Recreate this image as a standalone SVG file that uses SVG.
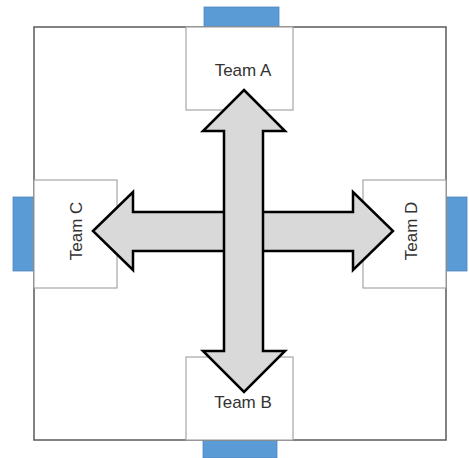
<svg xmlns="http://www.w3.org/2000/svg" width="469" height="458" viewBox="0 0 469 458">
<style>
.bg{fill:#ffffff}
.outer{fill:none;stroke:#5a5a5a;stroke-width:1.5}
.box{fill:#ffffff;stroke:#a6a6a6;stroke-width:1.2}
.door{fill:#5b9bd5;stroke:#4a86c0;stroke-width:0.8}
.arrow{fill:#d9d9d9;stroke:#000000;stroke-width:2.5;stroke-linejoin:miter}
.lbl{font-family:"Liberation Sans",Arial,sans-serif;font-size:17px;fill:#333333;text-anchor:middle}
</style>
<rect class="bg" x="0" y="0" width="469" height="458"/>
<g id="doors">
<rect class="door" x="204" y="7" width="75" height="20"/>
<rect class="door" x="203" y="440" width="74" height="18"/>
<rect class="door" x="13" y="197" width="21" height="74"/>
<rect class="door" x="446" y="197" width="21" height="74"/>
</g>
<g id="room"><rect class="outer" x="34" y="27" width="412" height="413"/></g>
<g id="teamA"><rect class="box" x="186" y="27" width="107" height="83"/><text class="lbl" x="243" y="76">Team A</text></g>
<g id="teamB"><rect class="box" x="186" y="357" width="107" height="83"/><text class="lbl" x="243" y="408">Team B</text></g>
<g id="teamC"><rect class="box" x="34" y="180" width="83" height="108"/><text class="lbl" transform="translate(82,231) rotate(-90)">Team C</text></g>
<g id="teamD"><rect class="box" x="363" y="180" width="83" height="108"/><text class="lbl" transform="translate(417,231) rotate(-90)">Team D</text></g>
<g id="connectors">
<polygon class="arrow" points="93,231 133,192 133,212 353,212 353,192 393,231 353,270 353,251 133,251 133,270"/>
<polygon class="arrow" points="244,90 285,131 263,131 263,351 285,351 244,392 203,351 224,351 224,131 203,131"/>
</g>
</svg>
